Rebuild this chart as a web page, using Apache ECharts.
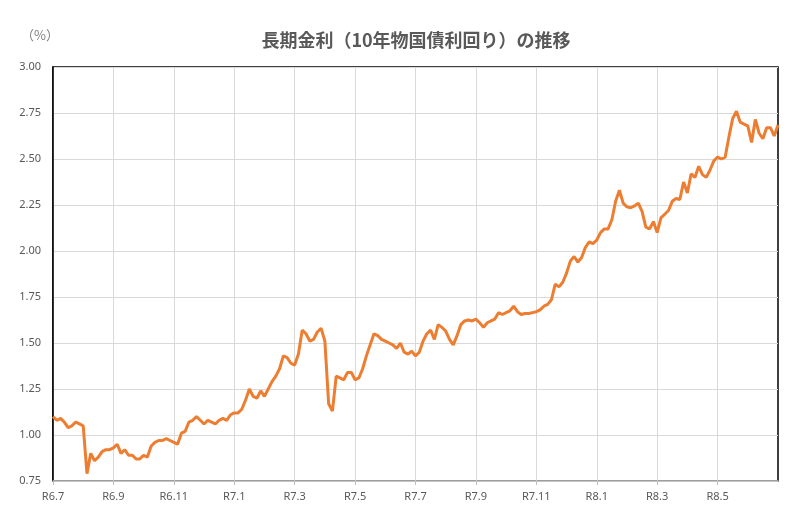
<!DOCTYPE html>
<html>
<head>
<meta charset="utf-8">
<script src="https://cdn.jsdelivr.net/npm/echarts@6/dist/echarts.min.js"></script>
<style>
  html, body { margin: 0; padding: 0; background: #fff; }
  #chart { width: 800px; height: 516px; }
</style>
</head>
<body>
<div id="chart"></div>
<script>
// month names on the axis (one entry per month, plus the end point)
const months = [
  'R6.7', 'R6.8', 'R6.9', 'R6.10', 'R6.11', 'R6.12',
  'R7.1', 'R7.2', 'R7.3', 'R7.4', 'R7.5', 'R7.6',
  'R7.7', 'R7.8', 'R7.9', 'R7.10', 'R7.11', 'R7.12',
  'R8.1', 'R8.2', 'R8.3', 'R8.4', 'R8.5', 'R8.6', 'R8.7',
]
const tickLabels = ['R6.7', 'R6.9', 'R6.11', 'R7.1', 'R7.3', 'R7.5', 'R7.7', 'R7.9', 'R7.11', 'R8.1', 'R8.3', 'R8.5']
const perMonth = 8

// 10年物国債利回り (%), 8 readings per month
const yields = [
  1.10, 1.08, 1.09, 1.07, 1.04, 1.05, 1.07, 1.06, // R6.7
  1.05, 0.79, 0.90, 0.86, 0.88, 0.91, 0.92, 0.92, // R6.8
  0.93, 0.95, 0.90, 0.92, 0.89, 0.89, 0.87, 0.87, // R6.9
  0.89, 0.88, 0.94, 0.96, 0.97, 0.97, 0.98, 0.97, // R6.10
  0.96, 0.95, 1.01, 1.02, 1.07, 1.08, 1.10, 1.08, // R6.11
  1.06, 1.08, 1.07, 1.06, 1.08, 1.09, 1.08, 1.11, // R6.12
  1.12, 1.12, 1.14, 1.19, 1.25, 1.21, 1.20, 1.24, // R7.1
  1.21, 1.25, 1.29, 1.32, 1.36, 1.43, 1.42, 1.39, // R7.2
  1.38, 1.44, 1.57, 1.55, 1.51, 1.52, 1.56, 1.58, // R7.3
  1.51, 1.17, 1.13, 1.32, 1.31, 1.30, 1.34, 1.34, // R7.4
  1.30, 1.31, 1.36, 1.43, 1.49, 1.55, 1.54, 1.52, // R7.5
  1.51, 1.50, 1.49, 1.47, 1.50, 1.45, 1.44, 1.455, // R7.6
  1.43, 1.45, 1.51, 1.55, 1.57, 1.52, 1.60, 1.585, // R7.7
  1.565, 1.52, 1.49, 1.54, 1.60, 1.62, 1.625, 1.62, // R7.8
  1.63, 1.61, 1.585, 1.61, 1.62, 1.63, 1.665, 1.655, // R7.9
  1.665, 1.675, 1.70, 1.67, 1.655, 1.66, 1.66, 1.665, // R7.10
  1.67, 1.68, 1.70, 1.71, 1.735, 1.82, 1.805, 1.83, // R7.11
  1.88, 1.945, 1.97, 1.94, 1.965, 2.02, 2.05, 2.04, // R7.12
  2.06, 2.10, 2.12, 2.12, 2.17, 2.27, 2.33, 2.26, // R8.1
  2.24, 2.235, 2.245, 2.26, 2.215, 2.13, 2.12, 2.16, // R8.2
  2.10, 2.18, 2.20, 2.22, 2.27, 2.285, 2.28, 2.375, // R8.3
  2.315, 2.42, 2.40, 2.46, 2.415, 2.40, 2.44, 2.49, // R8.4
  2.51, 2.50, 2.51, 2.62, 2.72, 2.76, 2.70, 2.69, // R8.5
  2.68, 2.59, 2.715, 2.64, 2.61, 2.67, 2.67, 2.625, // R8.6
  2.685,
]

const categories = []
for (let m = 0; m < months.length - 1; m += 1) {
  for (let k = 0; k < perMonth; k += 1) {
    categories.push(k === 0 ? months[m] : `${months[m]}-${k}`)
  }
}
categories.push(months[months.length - 1])

const step = perMonth * 2
const isTick = (index) => index % step === 0 && index / step < tickLabels.length

const myChart = echarts.init(document.getElementById('chart'))
const option = {
  animation: false,
  backgroundColor: '#fff',
  title: {
    text: '長期金利（10年物国債利回り）の推移',
    left: 411,
    top: 26,
    textAlign: 'center',
    textStyle: {
      fontFamily: 'Noto Sans CJK JP',
      fontSize: 18,
      fontWeight: 'bold',
      color: '#595959',
    },
  },
  graphic: [{
    type: 'text',
    left: 21,
    top: 29,
    style: {
      text: '（%）',
      font: '13px "Noto Sans CJK JP"',
      fill: '#7f7f7f',
    },
  }],
  grid: {
    left: 53,
    right: 22,
    top: 67,
    bottom: 35,
    show: true,
    borderColor: '#000',
    borderWidth: 1.5,
  },
  xAxis: {
    type: 'category',
    data: categories,
    boundaryGap: false,
    axisLine: { lineStyle: { color: '#bfbfbf', width: 1.5 } },
    axisTick: { interval: isTick, length: 4, lineStyle: { color: '#bfbfbf' } },
    splitLine: { show: true, interval: isTick, lineStyle: { color: '#d9d9d9', width: 1 } },
    axisLabel: {
      interval: isTick,
      margin: 10,
      color: '#595959',
      fontFamily: 'Noto Sans',
      fontSize: 11,
      formatter: (value, index) => tickLabels[index / step] || '',
    },
  },
  yAxis: {
    type: 'value',
    min: 0.75,
    max: 3.0,
    interval: 0.25,
    axisLine: { show: true, lineStyle: { color: '#000', width: 1.5 } },
    axisTick: { show: false },
    splitLine: { lineStyle: { color: '#d9d9d9', width: 1 } },
    axisLabel: {
      margin: 12,
      color: '#595959',
      fontFamily: 'Noto Sans',
      fontSize: 11,
      formatter: (v) => v.toFixed(2),
    },
  },
  series: [{
    type: 'line',
    data: yields,
    showSymbol: false,
    lineStyle: { color: '#ED7D31', width: 3 },
    itemStyle: { color: '#ED7D31' },
  }],
}
myChart.setOption(option)
</script>
</body>
</html>
